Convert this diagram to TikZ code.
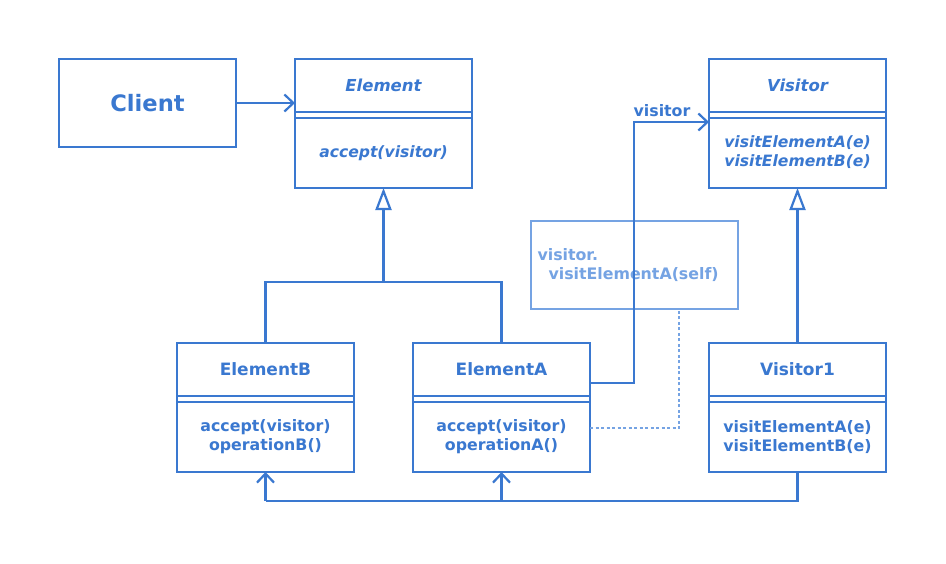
\documentclass[tikz,border=0pt]{standalone}
\usepackage{fontspec}
\setmainfont{DejaVu Sans}
\usetikzlibrary{arrows.meta}
\definecolor{uml}{HTML}{3A78D0}
\definecolor{notec}{HTML}{75A3E3}
\tikzset{
 box/.style={draw=uml, line width=2.2pt, anchor=north west, inner sep=0pt, outer sep=0pt, minimum width=177pt, minimum height=129pt},
 ttl/.style={text=uml, font=\fontsize{17}{19}\selectfont\bfseries},
 mth/.style={text=uml, align=center, font=\fontsize{15.8}{19}\selectfont\bfseries},
 sep/.style={draw=uml, line width=1.6pt},
 conn/.style={draw=uml, line width=2.2pt},
 openarr/.style={-{Straight Barb[length=9pt,width=17pt]}},
 inherit/.style={-{Triangle[open,length=22pt,width=16pt,fill=white]}}
}
\begin{document}
\begin{tikzpicture}[x=1pt,y=-1pt]
\useasboundingbox (0,0) rectangle (946,563);
\fill[white] (0,0) rectangle (946,563);
% boxes
\node[box, minimum height=88pt] (client) at (59,59) {};
\node[box] (element) at (295,59) {};
\node[box] (visitor) at (709,59) {};
\node[box] (elB) at (177,343) {};
\node[box] (elA) at (413,343) {};
\node[box] (v1) at (709,343) {};
\node[draw=notec, line width=2pt, anchor=north west, inner sep=0pt, outer sep=0pt, minimum width=207pt, minimum height=88pt] (note) at (531,221) {};
% separators
\foreach \x in {295,709}{
  \draw[sep] (\x,112) -- ++(177,0);
  \draw[sep] (\x,118) -- ++(177,0);
}
\foreach \x in {177,413,709}{
  \draw[sep] (\x,396) -- ++(177,0);
  \draw[sep] (\x,402) -- ++(177,0);
}
% texts
\node[text=uml, font=\fontsize{22.6}{26}\selectfont\bfseries] (clientlbl) at (147.5,103) {Client};
\node[ttl, font=\fontsize{16.5}{19}\selectfont\bfseries\itshape] (elementlbl) at (383.5,85) {Element};
\node[mth, font=\fontsize{15.6}{19}\selectfont\bfseries\itshape] (elementm) at (383.5,153) {accept(visitor)};
\node[ttl, font=\fontsize{16.5}{19}\selectfont\bfseries\itshape] (visitorlbl) at (797.5,85) {Visitor};
\node[mth, font=\fontsize{15.6}{19}\selectfont\bfseries\itshape] (visitorm) at (797.5,152) {visitElementA(e)\\visitElementB(e)};
\node[ttl] (elBlbl) at (265.5,369) {ElementB};
\node[mth] (elBm) at (265.5,437) {accept(visitor)\\operationB()};
\node[ttl] (elAlbl) at (501.5,369) {ElementA};
\node[mth] (elAm) at (501.5,437) {accept(visitor)\\operationA()};
\node[ttl] (v1lbl) at (797.5,369) {Visitor1};
\node[mth] (v1m) at (797.5,437) {visitElementA(e)\\visitElementB(e)};
\node[text=notec, anchor=west, align=left, font=\fontsize{15.8}{19}\selectfont\bfseries] (notelbl) at (534,265) {visitor.\\\hspace*{11pt}visitElementA(self)};
\node[text=uml, font=\fontsize{15.8}{19}\selectfont\bfseries] (vislbl) at (662,111) {visitor};
% connectors
\draw[conn, openarr] (client) -- (element.west |- client);
\coordinate (j1) at (383.5,282);
\draw[conn] (elB.north) |- (j1) -| (elA.north);
\draw[conn, inherit] (j1) -- (element.south);
\draw[conn, inherit] (v1.north) -- (visitor.south);
\coordinate (a1) at (634,383);
\coordinate (a2) at (634,122);
\draw[conn, openarr] (elA.east |- a1) -- (a1) -- (a2) -- (visitor.west |- a2);
\coordinate (d1) at (679,428);
\draw[draw=notec, line width=1.6pt, dash pattern=on 3pt off 2.5pt] (elA.east |- d1) -- (d1) -- (note.south -| d1);
\coordinate (b1) at (797.5,501);
\draw[conn] (v1.south) -- (b1) -- (elB.south |- b1);
\draw[conn, openarr] (elB.south |- b1) -- (elB.south);
\draw[conn, openarr] (elA.south |- b1) -- (elA.south);
\end{tikzpicture}
\end{document}
